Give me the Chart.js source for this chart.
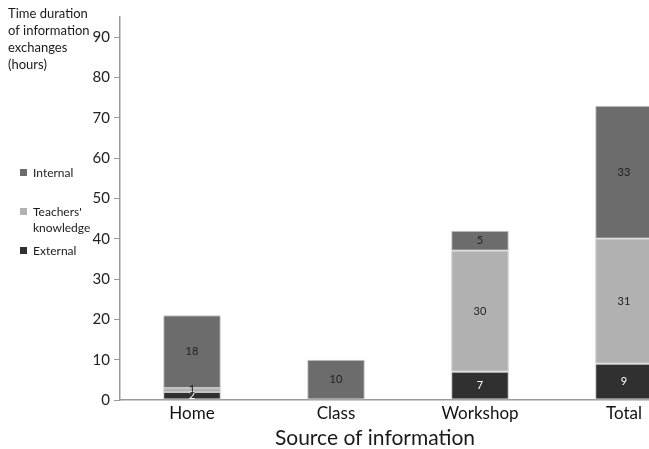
<!DOCTYPE html>
<html>
<head>
<meta charset="utf-8">
<script src="https://cdn.jsdelivr.net/npm/chart.js@4/dist/chart.umd.min.js"></script>
<style>
  html, body { margin: 0; padding: 0; background: #fff; overflow: hidden; }
  #wrap { position: absolute; left: 0; top: 0; width: 700px; height: 449px; }
</style>
</head>
<body>
<div id="wrap"><canvas id="c" width="700" height="449"></canvas></div>
<script>
// Hours of information exchange by source
const categories = ['Home', 'Class', 'Workshop', 'Total'];
const externalHours = [2, 0, 7, 9];
const teachersHours = [1, 0, 30, 31];
const internalHours = [18, 10, 5, 33];
const yTickValues = [0, 10, 20, 30, 40, 50, 60, 70, 80, 90];
const yTitleLines = ['Time duration', 'of information', 'exchanges', '(hours)'];
const xTitle = 'Source of information';

const FONT = 'Lato, "Open Sans", sans-serif';
const COLORS = { external: '#303030', teachers: '#b1b1b1', internal: '#6c6c6c' };

// Value labels centred in each stacked segment
const segmentLabels = {
  id: 'segmentLabels',
  afterDatasetsDraw(chart) {
    const ctx = chart.ctx;
    ctx.save();
    ctx.font = '11px ' + FONT;
    ctx.textAlign = 'center';
    ctx.textBaseline = 'middle';
    chart.data.datasets.forEach((ds, di) => {
      const meta = chart.getDatasetMeta(di);
      meta.data.forEach((el, i) => {
        const v = ds.data[i];
        if (!v) return;
        ctx.fillStyle = ds.labelColor;
        ctx.fillText(String(v), el.x, (el.y + el.base) / 2);
      });
    });
    ctx.restore();
  }
};

// Axis titles and the legend at the left side
const sideText = {
  id: 'sideText',
  afterDraw(chart) {
    const ctx = chart.ctx;
    ctx.save();
    ctx.fillStyle = '#1a1a1a';
    ctx.textBaseline = 'middle';
    ctx.textAlign = 'left';
    ctx.font = '13px ' + FONT;
    yTitleLines.forEach((t, i) => ctx.fillText(t, 8, 14 + i * 17));

    // legend: top entry is the top of the stack
    const entries = chart.data.datasets.slice().reverse();
    const ys = [173, 212, 251];
    ctx.font = '12px ' + FONT;
    entries.forEach((ds, i) => {
      ctx.fillStyle = ds.backgroundColor;
      ctx.fillRect(20, ys[i] - 4, 7, 7);
      ctx.fillStyle = '#1a1a1a';
      ds.label.split('\n').forEach((line, j) => ctx.fillText(line, 33, ys[i] + j * 16));
    });

    ctx.font = '21px ' + FONT;
    ctx.textAlign = 'center';
    ctx.fillText(xTitle, 375, 438);
    ctx.restore();
  }
};

new Chart(document.getElementById('c'), {
  type: 'bar',
  data: {
    labels: categories,
    datasets: [
      { label: 'External', data: externalHours, backgroundColor: COLORS.external, labelColor: '#ffffff' },
      { label: "Teachers'\nknowledge", data: teachersHours, backgroundColor: COLORS.teachers, labelColor: '#222222' },
      { label: 'Internal', data: internalHours, backgroundColor: COLORS.internal, labelColor: '#222222' }
    ].map(d => Object.assign(d, {
      borderColor: '#c4c4c4', borderWidth: 1, borderSkipped: false,
      barPercentage: 0.4, categoryPercentage: 1
    }))
  },
  options: {
    responsive: false,
    animation: false,
    layout: { padding: { left: 0, right: 4, top: 17, bottom: 0 } },
    plugins: { legend: { display: false }, tooltip: { enabled: false } },
    scales: {
      x: {
        stacked: true,
        grid: { display: false, drawTicks: false },
        border: { display: true, color: '#9a9a9a', width: 1.5 },
        ticks: { color: '#111', font: { family: FONT, size: 17 }, padding: 3 },
        afterFit(scale) { scale.height = 49; }
      },
      y: {
        stacked: true,
        min: 0,
        max: 95,
        grid: { drawOnChartArea: false, drawTicks: true, tickLength: 6, tickColor: '#9a9a9a' },
        border: { display: true, color: '#9a9a9a', width: 1.5 },
        ticks: { color: '#222', font: { family: FONT, size: 15 }, padding: 4, stepSize: 10 },
        afterBuildTicks(scale) { scale.ticks = yTickValues.map(v => ({ value: v })); },
        afterFit(scale) { scale.width = 120; }
      }
    }
  },
  plugins: [segmentLabels, sideText]
});
</script>
</body>
</html>
